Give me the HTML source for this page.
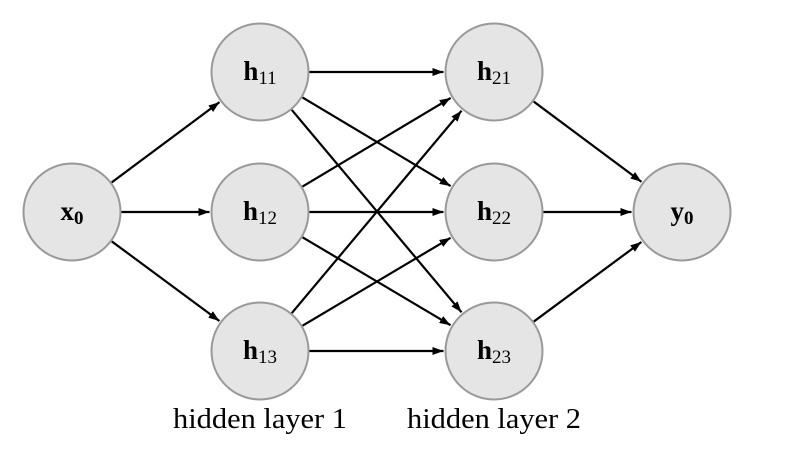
<!DOCTYPE html>
<html><head><meta charset="utf-8"><style>
html,body{margin:0;padding:0;background:#fff;width:796px;height:466px;overflow:hidden}
text{font-family:"Liberation Serif",serif;}
</style></head><body>
<svg id="s" width="796" height="466" xmlns="http://www.w3.org/2000/svg">
<defs><marker id="a" markerWidth="11" markerHeight="8" refX="11" refY="4" orient="auto" markerUnits="userSpaceOnUse"><path d="M0,0 L11,4 L0,8 Z" fill="#000"/></marker></defs>
<g id="edges" stroke="#000" stroke-width="2.2" fill="none"></g>
<g id="nodes"></g>
<text x="260" y="428" font-size="28" text-anchor="middle" textLength="174" lengthAdjust="spacingAndGlyphs">hidden layer 1</text>
<text x="494" y="428" font-size="28" text-anchor="middle" textLength="174" lengthAdjust="spacingAndGlyphs">hidden layer 2</text>
</svg>
<script>
var N={x:[72,212,'x','0'],h11:[260,72,'h','11'],h12:[260,212,'h','12'],h13:[260,351,'h','13'],
h21:[494,72,'h','21'],h22:[494,212,'h','22'],h23:[494,351,'h','23'],y:[682,212,'y','0']};
var R=48.5,ns="http://www.w3.org/2000/svg";
var E=[];['h11','h12','h13'].forEach(function(h){E.push(['x',h]);['h21','h22','h23'].forEach(function(k){E.push([h,k]);});});
['h21','h22','h23'].forEach(function(k){E.push([k,'y']);});
var eg=document.getElementById('edges');
E.forEach(function(e){var a=N[e[0]],b=N[e[1]];var dx=b[0]-a[0],dy=b[1]-a[1],L=Math.hypot(dx,dy),ux=dx/L,uy=dy/L;
var l=document.createElementNS(ns,'line');l.setAttribute('x1',a[0]+ux*(R+1));l.setAttribute('y1',a[1]+uy*(R+1));
l.setAttribute('x2',b[0]-ux*(R+2));l.setAttribute('y2',b[1]-uy*(R+2));l.setAttribute('marker-end','url(#a)');eg.appendChild(l);});
var ng=document.getElementById('nodes');
for(var k in N){var n=N[k];var c=document.createElementNS(ns,'circle');c.setAttribute('cx',n[0]);c.setAttribute('cy',n[1]);c.setAttribute('r',R);
c.setAttribute('fill','#e5e5e5');c.setAttribute('stroke','#999');c.setAttribute('stroke-width','2');ng.appendChild(c);
var t=document.createElementNS(ns,'text');t.setAttribute('x',n[0]);t.setAttribute('y',n[1]+8);t.setAttribute('text-anchor','middle');t.setAttribute('font-size','27');
var big=n[2]!=='h';
t.innerHTML='<tspan font-weight="bold">'+n[2]+'</tspan><tspan font-size="19" dy="4"'+(big?' font-weight="bold"':'')+'>'+n[3]+'</tspan>';ng.appendChild(t);}
</script>
</body></html>
